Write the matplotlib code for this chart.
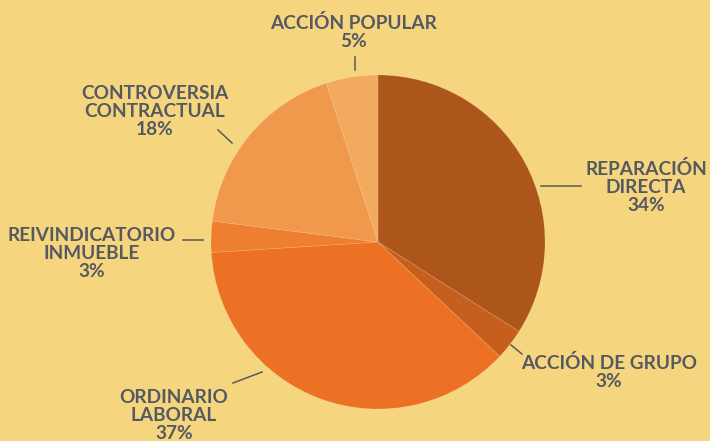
import matplotlib.pyplot as plt
import numpy as np

# Data
labels = ['REPARACIÓN\nDIRECTA', 'ACCIÓN DE GRUPO', 'ORDINARIO\nLABORAL',
          'REIVINDICATORIO\nINMUEBLE', 'CONTROVERSIA\nCONTRACTUAL', 'ACCIÓN POPULAR']
values = [34, 3, 37, 3, 18, 5]
colors = ['#AD561C', '#C65E1E', '#EC7124', '#EE7E30', '#F0994D', '#F2AA5F']

W, H = 710, 441
BG = '#F6D57F'
TXT = '#555960'

fig = plt.figure(figsize=(W / 100, H / 100), dpi=100, facecolor=BG)


def fx(x):
    return x / W


def fy(y):
    return 1 - y / H


# pie axes: center (378, 242), radius 167 px
cx, cy, r = 378, 242, 167
ax = fig.add_axes([fx(cx - r), fy(cy + r), 2 * r / W, 2 * r / H])
ax.pie(values, colors=colors, startangle=90, counterclock=False, radius=1,
       wedgeprops=dict(linewidth=0.6, edgecolor=(1, 1, 1, 0.15)))
ax.set_xlim(-1, 1)
ax.set_ylim(-1, 1)
ax.set_aspect('equal')
ax.axis('off')

# label text positions (center of block, first line y) and leader lines
text_pos = [(646, 160), (609, 354), (174, 389), (92, 227), (155, 85), (354, 14)]
leader = [((541, 186), (581, 186)), ((511, 345), (522, 354)), ((233, 383), (262, 372)),
          ((183, 240), (203, 240)), ((218, 130), (232, 143)), ((355, 57), (355, 70))]

for lab, v, (tx, ty), ((x1, y1), (x2, y2)) in zip(labels, values, text_pos, leader):
    fig.text(fx(tx), fy(ty), f'{lab}\n{v}%', ha='center', va='top',
             fontsize=13.7, fontweight='bold', family='Lato', color=TXT,
             linespacing=1.07)
    fig.add_artist(plt.Line2D([fx(x1), fx(x2)], [fy(y1), fy(y2)],
                              color=TXT, linewidth=1.1, transform=fig.transFigure))

fig.savefig('out.png', dpi=100, facecolor=BG)
